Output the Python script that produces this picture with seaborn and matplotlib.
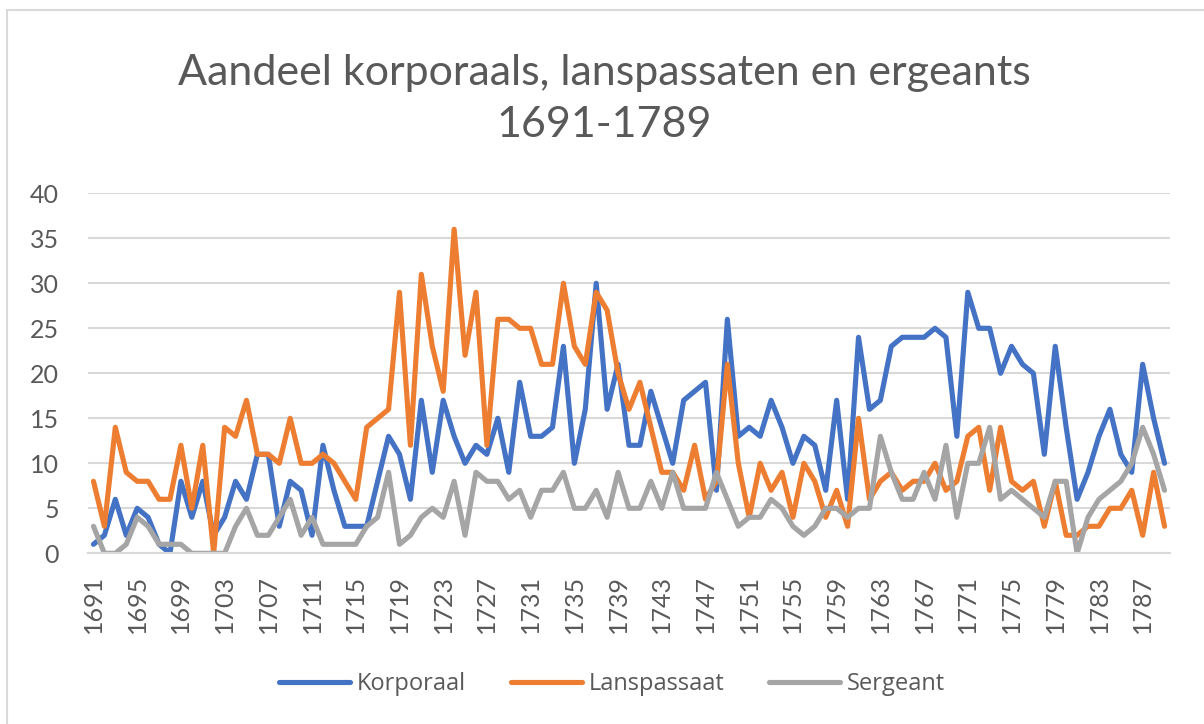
import matplotlib
matplotlib.use("Agg")
import matplotlib.pyplot as plt
from matplotlib.patches import Rectangle
import seaborn as sns
import pandas as pd

years = list(range(1691, 1790))
korporaal = [
    1, 2, 6, 2, 5, 4, 1, 0, 8, 4,
    8, 2, 4, 8, 6, 11, 11, 3, 8, 7,
    2, 12, 7, 3, 3, 3, 8, 13, 11, 6,
    17, 9, 17, 13, 10, 12, 11, 15, 9, 19,
    13, 13, 14, 23, 10, 16, 30, 16, 21, 12,
    12, 18, 14, 10, 17, 18, 19, 7, 26, 13,
    14, 13, 17, 14, 10, 13, 12, 7, 17, 6,
    24, 16, 17, 23, 24, 24, 24, 25, 24, 13,
    29, 25, 25, 20, 23, 21, 20, 11, 23, 14,
    6, 9, 13, 16, 11, 9, 21, 15, 10]
lanspassaat = [
    8, 3, 14, 9, 8, 8, 6, 6, 12, 5,
    12, 0, 14, 13, 17, 11, 11, 10, 15, 10,
    10, 11, 10, 8, 6, 14, 15, 16, 29, 12,
    31, 23, 18, 36, 22, 29, 12, 26, 26, 25,
    25, 21, 21, 30, 23, 21, 29, 27, 20, 16,
    19, 14, 9, 9, 7, 12, 6, 8, 21, 10,
    4, 10, 7, 9, 4, 10, 8, 4, 7, 3,
    15, 6, 8, 9, 7, 8, 8, 10, 7, 8,
    13, 14, 7, 14, 8, 7, 8, 3, 8, 2,
    2, 3, 3, 5, 5, 7, 2, 9, 3]
sergeant = [
    3, 0, 0, 1, 4, 3, 1, 1, 1, 0,
    0, 0, 0, 3, 5, 2, 2, 4, 6, 2,
    4, 1, 1, 1, 1, 3, 4, 9, 1, 2,
    4, 5, 4, 8, 2, 9, 8, 8, 6, 7,
    4, 7, 7, 9, 5, 5, 7, 4, 9, 5,
    5, 8, 5, 9, 5, 5, 5, 9, 6, 3,
    4, 4, 6, 5, 3, 2, 3, 5, 5, 4,
    5, 5, 13, 9, 6, 6, 9, 6, 12, 4,
    10, 10, 14, 6, 7, 6, 5, 4, 8, 8,
    0, 4, 6, 7, 8, 10, 14, 11, 7]
series_names = ["Korporaal", "Lanspassaat", "Sergeant"]
yticks = [0, 5, 10, 15, 20, 25, 30, 35, 40]
title = "Aandeel korporaals, lanspassaten en ergeants\n1691-1789"

colors = ["#4472C4", "#ED7D31", "#A5A5A5"]
text_color = "#595959"
grid_color = "#D9D9D9"

sns.set_theme(style="white")
plt.rcParams["font.family"] = ["Lato", "DejaVu Sans"]

pos = list(range(len(years)))
frames = []
for name, vals in zip(series_names, [korporaal, lanspassaat, sergeant]):
    frames.append(pd.DataFrame({"pos": pos, "value": vals, "serie": name}))
df = pd.concat(frames, ignore_index=True)

W, H = 1204, 724
fig = plt.figure(figsize=(W / 100, H / 100), dpi=100)
fig.patch.set_facecolor("white")
fig.patches.append(Rectangle((7 / W, -0.05), 1.1, 1.05 - 10 / H,
                             transform=fig.transFigure, fill=False,
                             edgecolor=grid_color, linewidth=1.5))

left, right = 88, 1170
top, bottom = 193.3, 553.3
ax = fig.add_axes([left / W, 1 - bottom / H, (right - left) / W, (bottom - top) / H])

lw = 3.7
sns.lineplot(data=df, x="pos", y="value", hue="serie", palette=colors,
             hue_order=series_names, linewidth=lw, sort=False, ax=ax,
             legend=True)

ax.set_xlim(-0.5, len(years) - 0.5)
ax.set_ylim(0, 40)
ax.set_yticks(yticks)
ax.set_yticklabels([str(v) for v in yticks])
xt = pos[::4]
ax.set_xticks(xt)
ax.set_xticklabels([str(years[i]) for i in xt], rotation=90)
ax.tick_params(axis="y", length=0, pad=21, labelsize=18, labelcolor=text_color)
ax.tick_params(axis="x", length=0, pad=15.5, labelsize=18, labelcolor=text_color)
for lbl in ax.get_xticklabels():
    lbl.set_verticalalignment("top")
ax.set_xlabel("")
ax.set_ylabel("")
ax.grid(axis="y", color=grid_color, linewidth=1.5)
ax.set_axisbelow(True)
for s in ["top", "right", "left"]:
    ax.spines[s].set_visible(False)
ax.spines["bottom"].set_color(grid_color)
ax.spines["bottom"].set_linewidth(1.5)
ax.set_facecolor("white")

handles, labels = ax.get_legend_handles_labels()
ax.get_legend().remove()
leg = fig.legend(handles, labels, loc="center", ncol=3,
                 bbox_to_anchor=(612 / W, 1 - 684 / H), frameon=False,
                 prop={"family": ["Open Sans", "DejaVu Sans"], "size": 17},
                 handlelength=3.0, columnspacing=1.9,
                 handletextpad=0.3, labelcolor=text_color)
for h in leg.get_lines():
    h.set_linewidth(lw)

fig.text(604 / W, 1 - 99 / H, title, ha="center", va="center",
         fontsize=31, color=text_color, linespacing=1.42)

fig.savefig("out.png", dpi=100, facecolor="white")
